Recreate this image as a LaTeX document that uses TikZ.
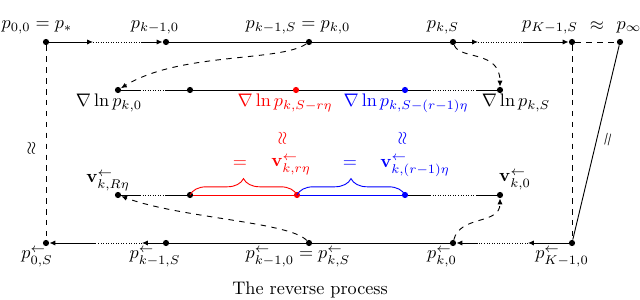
\documentclass[tikz,border=0pt]{standalone}
\usetikzlibrary{arrows.meta,decorations.pathreplacing}
\begin{document}
\begin{tikzpicture}[x=0.55pt,y=-0.55pt,
  dot/.style={circle,fill=black,inner sep=0pt,minimum size=3.4pt},
  rdot/.style={dot,fill=red},
  bdot/.style={dot,fill=blue},
  ln/.style={line width=0.5pt},
  arr/.style={ln,-{Latex[length=3.2pt,width=2.8pt]}},
  dts/.style={line width=0.4pt,densely dotted},
  dsh/.style={ln,dashed,-{Latex[length=3.2pt,width=2.8pt]}},
  lbl/.style={inner sep=0pt},
  brc/.style={decorate,decoration={brace,amplitude=9pt},line width=0.5pt},
]
\useasboundingbox (0,0) rectangle (640,300);

% ---- dots ----
\node[dot] (a0) at (46,42) {};
\node[dot] (a1) at (166,42) {};
\node[dot] (a2) at (309,42) {};
\node[dot] (a3) at (453,42) {};
\node[dot] (a4) at (572,42) {};
\node[dot] (ainf) at (620,42) {};

\node[dot] (g0) at (118,90) {};
\node[dot] (g1) at (190,90) {};
\node[rdot] (gr) at (296,90) {};
\node[bdot] (gb) at (405,90) {};
\node[dot] (gS) at (500,90) {};

\node[dot] (v0) at (118,195) {};
\node[dot] (v1) at (190,195) {};
\node[rdot] (vr) at (297,195) {};
\node[bdot] (vb) at (405,195) {};
\node[dot] (vS) at (500,195) {};

\node[dot] (b0) at (46,243) {};
\node[dot] (b1) at (166,243) {};
\node[dot] (b2) at (309,243) {};
\node[dot] (b3) at (453,243) {};
\node[dot] (b4) at (572,243) {};

% ---- helper coordinates ----
\coordinate (t1) at (93,42);  \coordinate (t2) at (142,42);
\coordinate (t3) at (478,42); \coordinate (t4) at (523,42);
\coordinate (ga) at (140,90); \coordinate (gbb) at (165,90);
\coordinate (gc) at (430,90); \coordinate (gd) at (477,90);
\coordinate (va) at (140,195); \coordinate (vbb) at (165,195);
\coordinate (vc) at (430,195); \coordinate (vd) at (477,195);
\coordinate (u1) at (142,243); \coordinate (u2) at (95,243);
\coordinate (u3) at (528,243); \coordinate (u4) at (477,243);

% ---- top line (forward) ----
\draw[arr] (a0) -- (t1);
\draw[dts] (t1) -- (t2);
\draw[arr] (t2) -- (a1);
\draw[ln] (a1) -- (a2);
\draw[ln] (a2) -- (a3);
\draw[arr] (a3) -- (t3);
\draw[dts] (t3) -- (t4);
\draw[arr] (t4) -- (a4);
\draw[ln,dashed] (a4) -- (ainf);

% ---- gradient line ----
\draw[ln] (g0) -- (ga);
\draw[dts] (ga) -- (gbb);
\draw[ln] (gbb) -- (g1);
\draw[ln] (g1) -- (gr);
\draw[ln] (gr) -- (gb);
\draw[ln] (gb) -- (gc);
\draw[dts] (gc) -- (gd);
\draw[ln] (gd) -- (gS);

% ---- v line ----
\draw[ln] (v0) -- (va);
\draw[dts] (va) -- (vbb);
\draw[ln] (vbb) -- (v1);
\draw[ln,red] (v1) -- (vr);
\draw[ln,blue] (vr) -- (vb);
\draw[ln] (vb) -- (vc);
\draw[dts] (vc) -- (vd);
\draw[ln] (vd) -- (vS);

% ---- bottom line (reverse) ----
\draw[arr] (b4) -- (u3);
\draw[dts] (u3) -- (u4);
\draw[arr] (u4) -- (b3);
\draw[ln] (b3) -- (b2);
\draw[ln] (b2) -- (b1);
\draw[arr] (b1) -- (u1);
\draw[dts] (u1) -- (u2);
\draw[arr] (u2) -- (b0);

% ---- side connections ----
\draw[ln,dashed] (a0) -- (b0);
\draw[ln,dashed] (a4) -- (b4);
\draw[ln] (b4) -- (ainf);

% ---- dashed curves ----
\draw[dsh] (a2) .. controls (280,62) and (180,52) .. (g0);
\draw[dsh] (a3) .. controls (460,60) and (500,50) .. (gS);
\draw[dsh] (b2) .. controls (290,222) and (180,218) .. (v0);
\draw[dsh] (b3) .. controls (460,215) and (500,225) .. (vS);

% ---- braces ----
\draw[brc,red] (v1.center) -- (vr.center);
\draw[brc,blue] (vr.center) -- (vb.center);

% ---- labels: top ----
\node[lbl] (la0) at (37,27) {$p_{0,0} = p_*$};
\node[lbl] (la1) at (155,27) {$p_{k-1,0}$};
\node[lbl] (la2) at (298,27) {$p_{k-1,S} = p_{k,0}$};
\node[lbl] (la3) at (443,27) {$p_{k,S}$};
\node[lbl] (la4) at (550,27) {$p_{K-1,S}$};
\node[lbl] (lapx) at (597,26) {$\approx$};
\node[lbl] (lainf) at (629,27) {$p_\infty$};

% ---- labels: gradient ----
\node[lbl] (lg0) at (109,103) {$\nabla\ln p_{k,0}$};
\node[lbl,text=red] (lgr) at (285,103) {$\nabla\ln p_{k,S-r\eta}$};
\node[lbl,text=blue] (lgb) at (406,103) {$\nabla\ln p_{k,S-(r-1)\eta}$};
\node[lbl] (lgS) at (516,103) {$\nabla\ln p_{k,S}$};

% ---- labels: middle ----
\node[lbl,rotate=90] (wl) at (32,148) {$\approx$};
\node[lbl,rotate=90,text=red] (wr) at (283,138) {$\approx$};
\node[lbl,rotate=90,text=blue] (wb) at (403,138) {$\approx$};
\node[lbl,text=red] (er) at (240,164) {$=$};
\node[lbl,text=red] (lvr) at (291,165) {$\mathbf{v}^{\leftarrow}_{k,r\eta}$};
\node[lbl,text=blue] (eb) at (350,164) {$=$};
\node[lbl,text=blue] (lvb) at (415,166) {$\mathbf{v}^{\leftarrow}_{k,(r-1)\eta}$};
\node[lbl] (lv0) at (108,181) {$\mathbf{v}^{\leftarrow}_{k,R\eta}$};
\node[lbl] (lvS) at (515,180) {$\mathbf{v}^{\leftarrow}_{k,0}$};
\node[lbl,rotate=76.6] (eqs) at (609,140) {$=$};

% ---- labels: bottom ----
\node[lbl] (lb0) at (37,257) {$p^{\leftarrow}_{0,S}$};
\node[lbl] (lb1) at (155,257) {$p^{\leftarrow}_{k-1,S}$};
\node[lbl] (lb2) at (298,257) {$p^{\leftarrow}_{k-1,0} = p^{\leftarrow}_{k,S}$};
\node[lbl] (lb3) at (442,257) {$p^{\leftarrow}_{k,0}$};
\node[lbl] (lb4) at (562,257) {$p^{\leftarrow}_{K-1,0}$};
\node[lbl] (trv) at (310,290) {The reverse process};
\end{tikzpicture}
\end{document}
